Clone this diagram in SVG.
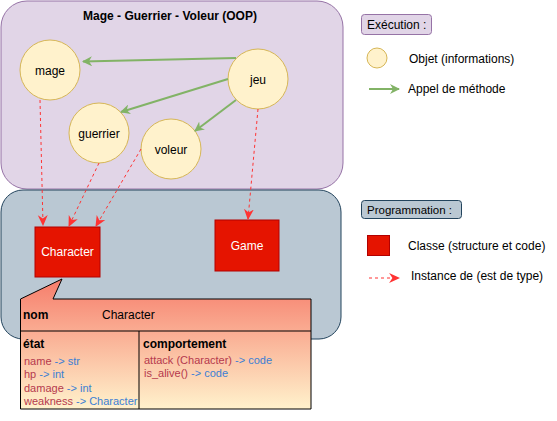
<svg xmlns="http://www.w3.org/2000/svg" width="557" height="421" viewBox="0 0 557 421">
<defs>
<style>
text{font-family:"Liberation Sans",Arial,sans-serif;fill:#000}
.lbl{font-size:12px}
.leg{font-size:12px}
.b{font-weight:bold}
.obj{fill:#fff2cc;stroke:#d6b656;stroke-width:1}
.cls{fill:#e51400;stroke:#b20000;stroke-width:1}
.call{fill:none;stroke:#82b366;stroke-width:2}
.inst{fill:none;stroke:#ff3333;stroke-width:1;stroke-dasharray:3 3}
.r{fill:#b5394d}
.bl{fill:#3b7fd4}
.attr{font-size:11px}
</style>
<marker id="ga" viewBox="0 0 10 10" refX="9" refY="5" markerWidth="5" markerHeight="5" orient="auto" markerUnits="strokeWidth">
<path d="M0,0 L10,5 L0,10 L3,5 Z" fill="#82b366"/>
</marker>
<marker id="ra" viewBox="0 0 10 10" refX="9" refY="5" markerWidth="11" markerHeight="11" orient="auto" markerUnits="strokeWidth">
<path d="M0,0.5 L10,5 L0,9.5 L3,5 Z" fill="#ff3333"/>
</marker>
<linearGradient id="cg" x1="0" y1="0" x2="0" y2="1">
<stop offset="0" stop-color="#f67d6b"/>
<stop offset="1" stop-color="#fff2cc"/>
</linearGradient>
</defs>
<g id="exec-zone">
<rect x="1" y="1" width="342" height="188" rx="26" fill="#e1d5e7" stroke="#9673a6"/>
<text x="170" y="20" text-anchor="middle" class="lbl b">Mage - Guerrier - Voleur (OOP)</text>
</g>
<g id="prog-zone">
<rect x="1" y="190" width="340" height="149" rx="22" fill="#bac8d3" stroke="#23445d"/>
</g>
<g id="mage"><circle cx="50" cy="70" r="30" class="obj"/><text x="50" y="75" text-anchor="middle" class="lbl">mage</text></g>
<g id="jeu"><circle cx="258" cy="79" r="30" class="obj"/><text x="258" y="84" text-anchor="middle" class="lbl">jeu</text></g>
<g id="guerrier"><circle cx="99" cy="133" r="30" class="obj"/><text x="99" y="138" text-anchor="middle" class="lbl">guerrier</text></g>
<g id="voleur"><circle cx="171" cy="149" r="30" class="obj"/><text x="171" y="154" text-anchor="middle" class="lbl">voleur</text></g>
<g id="Character"><rect x="35" y="227" width="65" height="50" class="cls"/><text x="67.5" y="256" text-anchor="middle" class="lbl" style="fill:#fff">Character</text></g>
<g id="Game"><rect x="215" y="220" width="64" height="51" class="cls"/><text x="247" y="250" text-anchor="middle" class="lbl" style="fill:#fff">Game</text></g>
<g id="connectors">
<line x1="236" y1="58" x2="83" y2="61.5" class="call" marker-end="url(#ga)"/>
<line x1="228" y1="79" x2="121" y2="112" class="call" marker-end="url(#ga)"/>
<line x1="236" y1="100" x2="195" y2="131" class="call" marker-end="url(#ga)"/>
<line x1="40" y1="100" x2="43" y2="225" class="inst" marker-end="url(#ra)"/>
<line x1="99" y1="163" x2="69" y2="226" class="inst" marker-end="url(#ra)"/>
<line x1="141" y1="149" x2="96" y2="226" class="inst" marker-end="url(#ra)"/>
<line x1="258" y1="109" x2="248" y2="219" class="inst" marker-end="url(#ra)"/>
</g>
<g id="class-callout">
<path d="M20.5,299 L62,279 L53,299 L311,299 L311,409 L20.5,409 Z" fill="url(#cg)" stroke="#000" stroke-width="1"/>
<line x1="20.5" y1="331" x2="311" y2="331" stroke="#000"/>
<line x1="139" y1="331" x2="139" y2="409" stroke="#000"/>
<text x="23" y="319" class="lbl b">nom</text>
<text x="102" y="319" class="lbl">Character</text>
<text x="23" y="348" class="lbl b">état</text>
<text x="24" y="365" class="attr"><tspan class="r">name </tspan><tspan class="bl">-&gt; str</tspan></text>
<text x="24" y="378" class="attr"><tspan class="r">hp </tspan><tspan class="bl">-&gt; int</tspan></text>
<text x="24" y="392" class="attr"><tspan class="r">damage </tspan><tspan class="bl">-&gt; int</tspan></text>
<text x="24" y="405" class="attr"><tspan class="r">weakness </tspan><tspan class="bl">-&gt; Character</tspan></text>
<text x="143" y="348" class="lbl b">comportement</text>
<text x="144" y="364" class="attr"><tspan class="r">attack (Character) </tspan><tspan class="bl">-&gt; code</tspan></text>
<text x="144" y="377" class="attr"><tspan class="r">is_alive() </tspan><tspan class="bl">-&gt; code</tspan></text>
</g>
<g id="legend">
<rect x="361.5" y="14.5" width="70" height="20" rx="3" fill="#e1d5e7" stroke="#9673a6"/>
<text x="367" y="29" class="leg">Exécution :</text>
<circle cx="377" cy="58" r="10" class="obj"/>
<text x="409" y="63" class="leg">Objet (informations)</text>
<line x1="369" y1="89" x2="399" y2="89" class="call" marker-end="url(#ga)"/>
<text x="408" y="93" class="leg">Appel de méthode</text>
<rect x="361.5" y="200.5" width="100" height="18" rx="3" fill="#bac8d3" stroke="#23445d"/>
<text x="367" y="214" class="leg" style="font-size:11.5px">Programmation :</text>
<rect x="367.5" y="235.5" width="22" height="20" class="cls"/>
<text x="408" y="250" class="leg">Classe (structure et code)</text>
<line x1="369" y1="278" x2="399" y2="278" class="inst" marker-end="url(#ra)"/>
<text x="411" y="280" class="leg">Instance de (est de type)</text>
</g>
</svg>
